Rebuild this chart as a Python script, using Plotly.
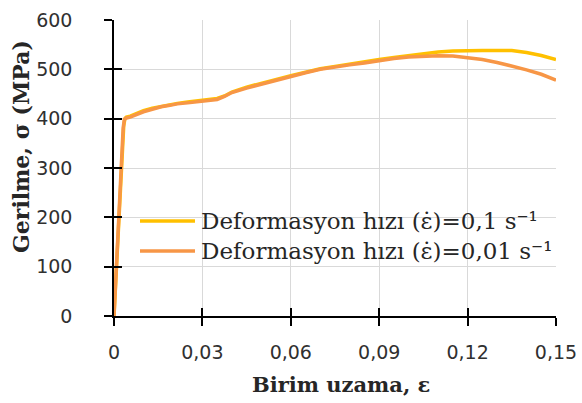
import plotly.graph_objects as go

# Strain (ε) and stress σ (MPa) for the two deformation rates
strain_fast = [0, 0.0006, 0.0010, 0.0014, 0.0018, 0.0022, 0.0026, 0.0030, 0.0033, 0.0037,
               0.0042, 0.0055, 0.0075, 0.0100, 0.0130, 0.0160, 0.0190, 0.0215, 0.0250,
               0.0290, 0.0320, 0.0350, 0.0375, 0.0400, 0.0450, 0.0500, 0.0550, 0.0600,
               0.0650, 0.0700, 0.0750, 0.0800, 0.0850, 0.0900, 0.0950, 0.1000, 0.1050,
               0.1100, 0.1150, 0.1200, 0.1250, 0.1300, 0.1350, 0.1400, 0.1450, 0.1500]
stress_fast = [0, 70, 110, 160, 215, 265, 320, 360, 385, 400,
               403, 405, 410, 416, 421, 425, 428, 431, 434,
               437, 439, 441, 446, 454, 464, 472, 479, 487,
               494, 501, 506, 511, 515, 520, 524, 528, 532,
               535, 537, 538, 538, 538, 538, 534, 528, 520]

strain_slow = [0, 0.0005, 0.0009, 0.0013, 0.0017, 0.0021, 0.0024, 0.0028, 0.0031, 0.0035,
               0.0040, 0.0055, 0.0075, 0.0100, 0.0130, 0.0160, 0.0190, 0.0215, 0.0250,
               0.0290, 0.0320, 0.0350, 0.0375, 0.0400, 0.0450, 0.0500, 0.0550, 0.0600,
               0.0650, 0.0700, 0.0750, 0.0800, 0.0850, 0.0900, 0.0950, 0.1000, 0.1050,
               0.1100, 0.1150, 0.1200, 0.1250, 0.1300, 0.1350, 0.1400, 0.1450, 0.1500]
stress_slow = [0, 60, 100, 150, 200, 260, 300, 350, 380, 398,
               401, 403, 408, 414, 419, 424, 427, 430, 432,
               435, 437, 439, 445, 453, 462, 470, 478, 485,
               493, 500, 505, 509, 513, 518, 522, 525, 527,
               527.5, 527, 524, 520, 514, 507, 499, 490, 478]

series_names = ["Deformasyon hızı (ε̇)=0,1 s⁻¹", "Deformasyon hızı (ε̇)=0,01 s⁻¹"]
series_colors = ["#FFC000", "#F79646"]

x_ticks = [0, 0.03, 0.06, 0.09, 0.12, 0.15]
x_tick_labels = ["0", "0,03", "0,06", "0,09", "0,12", "0,15"]
y_ticks = [0, 100, 200, 300, 400, 500, 600]
y_tick_labels = [str(v) for v in y_ticks]

# plot-area geometry in pixels, used to place the key and titles
L, R, T, B = 114, 556, 20, 316
W, H = 582, 403


def px_x(p):
    return (p - L) / (R - L)


def px_y(p):
    return (B - p) / (B - T)


fig = go.Figure()
fig.add_trace(go.Scatter(x=strain_fast, y=stress_fast, mode="lines", name=series_names[0],
                         line=dict(color=series_colors[0], width=3.5)))
fig.add_trace(go.Scatter(x=strain_slow, y=stress_slow, mode="lines", name=series_names[1],
                         line=dict(color=series_colors[1], width=3.5),
                         xaxis="x2", yaxis="y2"))

tick_font = dict(family="DejaVu Sans", size=19, color="#303030")
axis_common = dict(showline=True, linecolor="black", linewidth=1.5,
                   ticks="outside", ticklen=8, tickwidth=1.5, tickcolor="black",
                   showgrid=True, gridcolor="#D9D9D9", gridwidth=1.2, zeroline=False,
                   tickfont=tick_font, automargin=False)
inner_ticks = dict(ticks="inside", ticklen=8, tickwidth=1.5, tickcolor="black",
                   showticklabels=False, showgrid=False, showline=False,
                   zeroline=False, automargin=False)

# key: short line swatch followed by the series name
key_rows = [221, 251]
shapes = []
annotations = []
for name, color, row in zip(series_names, series_colors, key_rows):
    shapes.append(dict(type="line", xref="paper", yref="paper",
                       x0=px_x(140), x1=px_x(195), y0=px_y(row), y1=px_y(row),
                       line=dict(color=color, width=3.5)))
    annotations.append(dict(text=name, xref="paper", yref="paper",
                            x=px_x(199), y=px_y(row), xanchor="left", yanchor="middle",
                            showarrow=False,
                            font=dict(family="DejaVu Serif", size=23, color="#262626")))

annotations += [
    dict(text="<b>Birim uzama, ε</b>", xref="paper", yref="paper",
         x=px_x(341), y=px_y(384), xanchor="center", yanchor="middle",
         showarrow=False, font=dict(family="DejaVu Serif", size=21, color="#262626")),
    dict(text="<b>Gerilme, σ (MPa)</b>", xref="paper", yref="paper",
         x=px_x(21), y=px_y(147), xanchor="center", yanchor="middle",
         textangle=-90, showarrow=False,
         font=dict(family="DejaVu Serif", size=22, color="#262626")),
]

fig.update_layout(
    width=W, height=H,
    margin=dict(l=L, r=W - R, t=T, b=H - B, autoexpand=False),
    paper_bgcolor="white", plot_bgcolor="white",
    xaxis=dict(range=[0, 0.15], tickvals=x_ticks, ticktext=x_tick_labels,
               ticklabelstandoff=10, **axis_common),
    yaxis=dict(range=[0, 600], tickvals=y_ticks, ticktext=y_tick_labels,
               ticklabelstandoff=28, **axis_common),
    # second pair of axes draws the inner half of the crossing tick marks
    xaxis2=dict(overlaying="x", matches="x", side="bottom", range=[0, 0.15],
                tickvals=x_ticks, **inner_ticks),
    yaxis2=dict(overlaying="y", matches="y", side="left", range=[0, 600],
                tickvals=y_ticks, **inner_ticks),
    showlegend=False,
    shapes=shapes,
    annotations=annotations,
)

fig.write_html("out.html")
